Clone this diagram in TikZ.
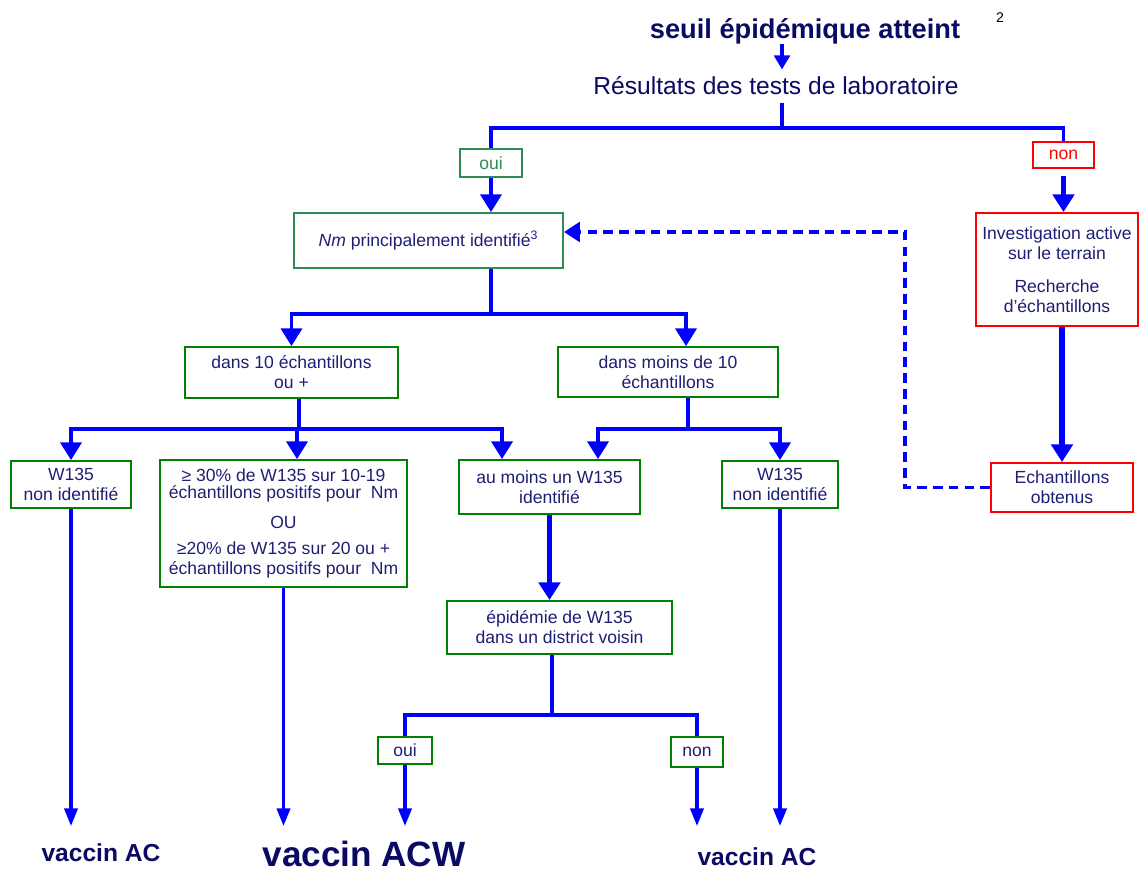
\documentclass[tikz,border=0pt]{standalone}
\usepackage{fontspec}
\setmainfont{Liberation Sans}
\usetikzlibrary{arrows.meta,positioning,calc}
\definecolor{navytxt}{RGB}{30,30,115}
\definecolor{titletxt}{RGB}{10,10,100}
\definecolor{okgreen}{RGB}{0,128,0}
\definecolor{tealgreen}{RGB}{46,139,87}
\definecolor{flowblue}{RGB}{0,0,255}

\begin{document}
\begin{tikzpicture}[
  x=0.02cm, y=-0.02cm,
  font=\fontsize{10}{11.5}\selectfont, text=navytxt,
  box/.style={draw=okgreen, line width=1.1pt, align=center, inner sep=1pt},
  tbox/.style={box, draw=tealgreen},
  rbox/.style={box, draw=red},
  ttl/.style={font=\fontsize{15.5}{18}\selectfont\bfseries, text=titletxt, inner sep=0pt},
  vac/.style={font=\fontsize{14}{16}\selectfont\bfseries, text=titletxt, inner sep=0pt},
  ln/.style={draw=flowblue, line width=1.8pt},
  thk/.style={ln, line width=3pt},
  >={Triangle[width=12pt,length=10pt]},
  sm/.style={ln, -{Triangle[width=7.5pt,length=10pt]}},
]
\useasboundingbox (0,0) rectangle (1139,872);

\node[ttl] (title) at (805,31) {seuil épidémique atteint};
\node[font=\fontsize{8}{9}\selectfont, text=black] (fn2) at (1000,18) {2};
\node[font=\fontsize{14}{16}\selectfont, text=titletxt, inner sep=4pt] (res) at (776,86) {Résultats des tests de laboratoire};

\node[tbox, text=tealgreen, minimum width=1.24cm, minimum height=0.56cm] (oui1) at (491,163) {oui};
\node[rbox, text=red, minimum width=1.22cm, minimum height=0.52cm] (non1) at (1063.5,155) {non};
\node[tbox, minimum width=5.38cm, minimum height=1.10cm] (Nm) at (428.5,240.5) {\textit{Nm} principalement identifié\textsuperscript{3}};
\node[rbox, minimum width=3.24cm, minimum height=2.26cm] (invest) at (1057,269.5)
  {Investigation active\\sur le terrain\\[7pt]Recherche\\d’échantillons};
\node[rbox, minimum width=2.84cm, minimum height=0.98cm] (echant) at (1062,487.5) {Echantillons\\obtenus};

\node[box, minimum width=4.26cm, minimum height=1.02cm] (d10) at (291.5,372.5) {dans 10 échantillons\\ou +};
\node[box, minimum width=4.4cm, minimum height=1.0cm] (dmoins) at (668,372) {dans moins de 10\\échantillons};

\node[box, minimum width=2.4cm, minimum height=0.94cm] (w1) at (71,484.5) {W135\\non identifié};
\node[box, minimum width=4.94cm, minimum height=2.54cm] (pct) at (283.5,523.5)
  {≥ 30\% de W135 sur 10-19\\[-2pt]échantillons positifs pour~ Nm\\[6pt]OU\\[3pt]≥20\% de W135 sur 20 ou +\\échantillons positifs pour~ Nm};
\node[box, minimum width=3.62cm, minimum height=1.08cm] (aum) at (549.5,487) {au moins un W135\\identifié};
\node[box, minimum width=2.32cm, minimum height=0.94cm] (w2) at (780,484.5) {W135\\non identifié};

\node[box, minimum width=4.5cm, minimum height=1.06cm] (epi) at (559.5,627.5) {épidémie de W135\\dans un district voisin};
\node[box, minimum width=1.08cm, minimum height=0.54cm] (oui2) at (405,750.5) {oui};
\node[box, minimum width=1.04cm, minimum height=0.6cm] (non2) at (697,752) {non};

\node[vac] (vac1) at (101,853) {vaccin AC};
\node[vac, font=\fontsize{20}{22}\selectfont\bfseries] (vac2) at (364,854) {vaccin ACW};
\node[vac] (vac3) at (757,857) {vaccin AC};

\coordinate (j1) at (782,128);
\coordinate (j2) at (491,314);
\coordinate (j3) at (299,429);
\coordinate (j4) at (688,429);
\coordinate (j5) at (552,715);
\coordinate (dk) at (905,232);
\coordinate (bot) at (0,826);

\draw[ln, -{Triangle[width=9pt,length=8pt]}] (title.south -| j1) -- (res.north -| j1);
\draw[ln] (res.south -| j1) -- (j1);
\draw[ln] (j1) -| (oui1);
\draw[ln] (j1) -| (non1);
\draw[ln, ->] (oui1) -- (oui1 |- Nm.north);
\draw[thk, ->, shorten <=4pt] (non1.south) -- (non1.south |- invest.north);
\draw[thk, ->] (invest.south -| echant) -- (echant);
\draw[ln, line width=2.2pt, dash pattern=on 5.5pt off 3.5pt, -{Triangle[width=11pt,length=9pt]}] (echant.west) -| (dk) -- (Nm.east |- dk);

\draw[ln] (Nm.south -| j2) -- (j2);
\draw[ln, ->] (j2) -| (d10);
\draw[ln, ->] (j2) -| ([xshift=0.36cm]dmoins.north);

\draw[ln] (d10.south -| j3) -- (j3);
\draw[ln, ->] (j3) -| (w1);
\draw[ln, ->] (j3) -| ([xshift=0.27cm]pct.north);
\draw[ln, ->] (j3) -| ([xshift=-0.95cm]aum.north);

\draw[ln] (dmoins.south -| j4) -- (j4);
\draw[ln, ->] (j4) -| ([xshift=0.97cm]aum.north);
\draw[ln, ->] (j4) -| (w2);

\draw[thk, ->] (aum) -- (aum |- epi.north);
\draw[ln] (epi.south -| j5) -- (j5);
\draw[ln] (j5) -| (oui2);
\draw[ln] (j5) -| (non2);

\foreach \n in {w1,pct,oui2,non2,w2} { \draw[sm] (\n.south) -- (\n.south |- bot); }
\end{tikzpicture}
\end{document}
